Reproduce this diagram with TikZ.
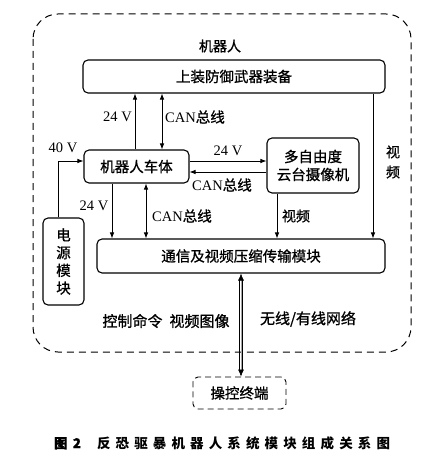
\documentclass[tikz,border=0pt]{standalone}
\usepackage{fontspec}
\setmainfont{Liberation Serif}
\newfontfamily\cjk[FakeBold=1]{Noto Sans CJK SC}
\newfontfamily\cjkcap[LetterSpace=38]{Noto Sans CJK SC}
\usetikzlibrary{arrows.meta}
\begin{document}
\begin{tikzpicture}[x=1pt,y=-1pt,
  box/.style={draw, line width=1.1pt, rounded corners=5pt, inner sep=0pt, align=center,
    font=\cjk\fontsize{14.5}{18}\selectfont},
  arr/.style={line width=0.7pt, -{Latex[length=6pt,width=4.5pt]}},
  darr/.style={line width=0.7pt, {Latex[length=6pt,width=4.5pt]}-{Latex[length=6pt,width=4.5pt]}},
  lab/.style={font=\fontsize{14.5}{17}\selectfont, inner sep=0pt},
  clab/.style={font=\cjk\fontsize{14}{17}\selectfont, inner sep=0pt},
  outer/.style={draw, line width=1pt, dash pattern=on 7pt off 5pt, rounded corners=25pt}]
\useasboundingbox (0,0) rectangle (447,457);
\draw[outer] (33,14) rectangle (411,352);
\node[clab] (robot) at (220,46) {机器人};
% boxes
\node[box, minimum width=302pt, minimum height=33pt] (top) at (234,76.5) {上装防御武器装备};
\node[box, minimum width=105pt, minimum height=33pt] (car) at (136.5,166.5) {机器人车体};
\node[box, minimum width=92pt, minimum height=55pt] (cam) at (313,165.5) {多自由度\\云台摄像机};
\node[box, minimum width=41pt, minimum height=87pt, font=\cjk\fontsize{14.5}{17.7}\selectfont] (pow) at (63.5,261.5) {电\\源\\模\\块};
\node[box, minimum width=288pt, minimum height=34pt] (comm) at (241,256) {通信及视频压缩传输模块};
\node[box, dash pattern=on 6pt off 4pt, line width=0.9pt, minimum width=93pt, minimum height=32pt] (term) at (239.5,393) {操控终端};
% helper coordinates
\coordinate (xa) at (135,0);
\coordinate (xb) at (162,0);
\coordinate (xc) at (58,0);
\coordinate (ya) at (0,161);
\coordinate (yb) at (0,172);
\coordinate (xd) at (112,0);
\coordinate (xe) at (146,0);
\coordinate (xf) at (277,0);
\coordinate (xg) at (373,0);
% connectors
\draw[arr] (car.north -| xa) -- (top.south -| xa);
\draw[darr] (top.south -| xb) -- (car.north -| xb);
\draw[arr] (pow.north -| xc) |- (car.west |- ya);
\draw[arr] (car.east |- ya) -- (cam.west |- ya);
\draw[arr] (cam.west |- yb) -- (car.east |- yb);
\draw[arr] (car.south -| xd) -- (comm.north -| xd);
\draw[darr] (car.south -| xe) -- (comm.north -| xe);
\draw[arr] (cam.south -| xf) -- (comm.north -| xf);
\draw[arr] (top.south -| xg) -- (comm.north -| xg);
% double network link
\draw[line width=0.6pt, gray!70,
  {Latex[length=7pt,width=6pt,black]}-{Latex[length=7pt,width=6pt,black]}] (comm.south) -- (comm.south |- term.north);
\draw[line width=0.7pt, shorten <=5pt, shorten >=5pt] ([xshift=-1.5pt]comm.south) -- ([xshift=-1.5pt]comm.south |- term.north);
\draw[line width=0.7pt, shorten <=5pt, shorten >=5pt] ([xshift=1.5pt]comm.south) -- ([xshift=1.5pt]comm.south |- term.north);
% labels
\node[lab, anchor=east] (l1) at (132,117) {24 V};
\node[lab, anchor=west] (l2) at (165,117) {CAN{\cjk 总线}};
\node[lab] (l3) at (63,148) {40 V};
\node[lab] (l4) at (228,151) {24 V};
\node[lab] (l5) at (222,185) {CAN{\cjk 总线}};
\node[lab] (l6) at (94,206) {24 V};
\node[lab] (l7) at (182,216) {CAN{\cjk 总线}};
\node[clab] (l8) at (296,216) {视频};
\node[clab, align=center, font=\cjk\fontsize{14}{20}\selectfont] (l9) at (393,162) {视\\频};
\node[clab, font=\cjk\fontsize{15}{17}\selectfont] (l10) at (166,321) {控制命令\hspace{7pt}视频图像};
\node[clab, font=\cjk\fontsize{15}{17}\selectfont] (l11) at (308,319) {无线/有线网络};
% caption
\node[inner sep=0pt, font=\cjk\bfseries\fontsize{13.5}{16}\selectfont] (cap) at (222,443)
  {图\ \,2\hspace{16pt}{\cjkcap\bfseries 反恐驱暴机器人系统模块组成关系图}};
\end{tikzpicture}
\end{document}
